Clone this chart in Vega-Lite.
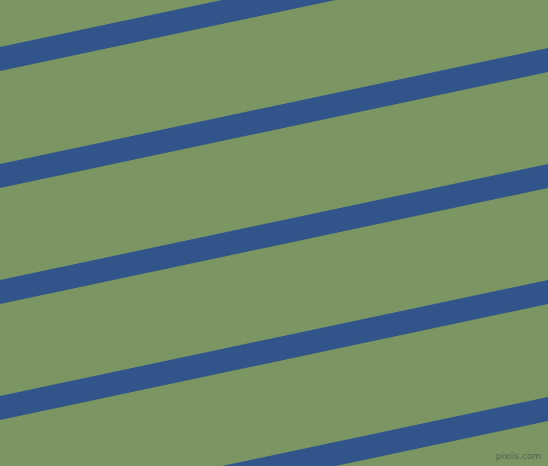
{
  "$schema": "https://vega.github.io/schema/vega-lite/v6.json",
  "width": 548,
  "height": 466,
  "padding": 0,
  "autosize": {"type": "fit", "contains": "padding"},
  "background": "#7b9563",
  "config": {"view": {"stroke": null, "fill": "#7b9563"}},
  "datasets": {
    "stripes": [
      {"stripe": 1, "x": -20, "y": 63.2},
      {"stripe": 1, "x": 568, "y": -61.2},
      {"stripe": 2, "x": -20, "y": 180.2},
      {"stripe": 2, "x": 568, "y": 55.8},
      {"stripe": 3, "x": -20, "y": 296.2},
      {"stripe": 3, "x": 568, "y": 171.8},
      {"stripe": 4, "x": -20, "y": 412.2},
      {"stripe": 4, "x": 568, "y": 287.8},
      {"stripe": 5, "x": -20, "y": 529.2},
      {"stripe": 5, "x": 568, "y": 404.8}
    ],
    "credit": [
      {"label": "pixiis.com", "x": 541, "y": 456}
    ]
  },
  "layer": [
    {
      "data": {"name": "stripes"},
      "mark": {"type": "line", "clip": true, "strokeWidth": 23.5, "strokeCap": "butt", "color": "#31548a"},
      "encoding": {
        "x": {"field": "x", "type": "quantitative", "scale": {"domain": [0, 548], "nice": false, "zero": false}, "axis": null},
        "y": {"field": "y", "type": "quantitative", "scale": {"domain": [0, 466], "nice": false, "zero": false, "reverse": true}, "axis": null},
        "detail": {"field": "stripe", "type": "nominal"}
      }
    },
    {
      "data": {"name": "credit"},
      "mark": {"type": "text", "align": "right", "baseline": "middle", "fontSize": 9, "font": "DejaVu Sans", "color": "#55654f"},
      "encoding": {
        "x": {"field": "x", "type": "quantitative"},
        "y": {"field": "y", "type": "quantitative"},
        "text": {"field": "label"}
      }
    }
  ]
}
